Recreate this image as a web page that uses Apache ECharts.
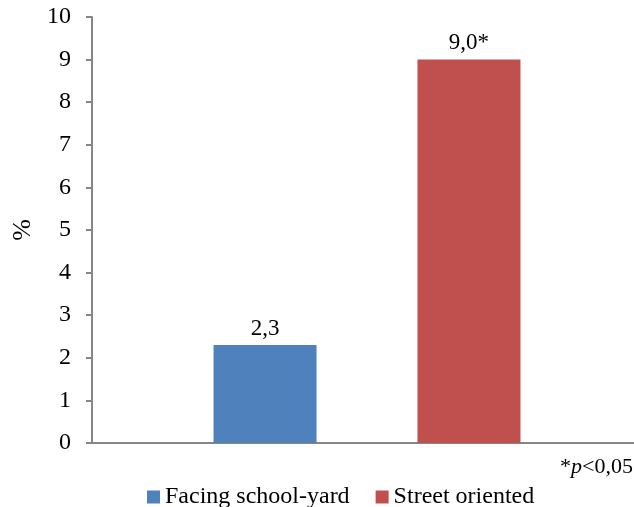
<!DOCTYPE html>
<html>
<head>
<meta charset="utf-8">
<script src="https://cdn.jsdelivr.net/npm/echarts@6/dist/echarts.min.js"></script>
<style>
  html, body { margin: 0; padding: 0; background: #fff; }
  #chart { width: 634px; height: 507px; }
</style>
</head>
<body>
<div id="chart"></div>
<script>
// data
const categories = [""];
const seriesNames = ["Facing school-yard", "Street oriented"];
const seriesValues = [[2.3], [9.0]];
const valueLabels = ["2,3", "9,0*"];
const yTicks = [0, 1, 2, 3, 4, 5, 6, 7, 8, 9, 10];

const colors = ["#4F81BD", "#C0504D"];
const font = "Liberation Serif, Times New Roman, serif";

const myChart = echarts.init(document.getElementById("chart"));

const option = {
  color: colors,
  animation: false,
  textStyle: { fontFamily: font },
  grid: {
    left: 92,
    right: -8,
    top: 17,
    bottom: 64,
    outerBoundsMode: "none",
  },
  legend: {
    data: seriesNames,
    left: 142,
    top: 480,
    icon: "rect",
    itemWidth: 13,
    itemHeight: 13,
    itemGap: 26,
    textStyle: { fontFamily: font, fontSize: 24, color: "#000" },
  },
  xAxis: {
    type: "category",
    data: categories,
    axisLine: { lineStyle: { color: "#868686", width: 2 } },
    axisTick: { show: false },
    axisLabel: { show: false },
  },
  yAxis: {
    type: "value",
    min: yTicks[0],
    max: yTicks[yTicks.length - 1],
    interval: 1,
    name: "%",
    nameLocation: "middle",
    nameGap: 54,
    nameTextStyle: { fontFamily: font, fontSize: 26, color: "#000" },
    axisLine: { show: true, lineStyle: { color: "#868686", width: 2 } },
    axisTick: { show: true, length: 6, lineStyle: { color: "#868686", width: 2 } },
    axisLabel: { fontFamily: font, fontSize: 24, color: "#000", margin: 21 },
    splitLine: { show: false },
  },
  graphic: [
    {
      type: "text",
      right: 1,
      top: 456,
      style: {
        text: "{a|*}{b|p}{a|<0,05}",
        rich: {
          a: { fontFamily: font, fontSize: 22, fill: "#000" },
          b: { fontFamily: font, fontSize: 22, fontStyle: "italic", fill: "#000" },
        },
      },
    },
  ],
  series: seriesNames.map(function (name, i) {
    return {
      name: name,
      type: "bar",
      data: seriesValues[i],
      barWidth: 103,
      barGap: "98%",
      label: {
        show: true,
        position: "top",
        distance: 5,
        fontFamily: font,
        fontSize: 23,
        color: "#000",
        formatter: function () { return valueLabels[i]; },
      },
    };
  }),
};

myChart.setOption(option);
</script>
</body>
</html>
